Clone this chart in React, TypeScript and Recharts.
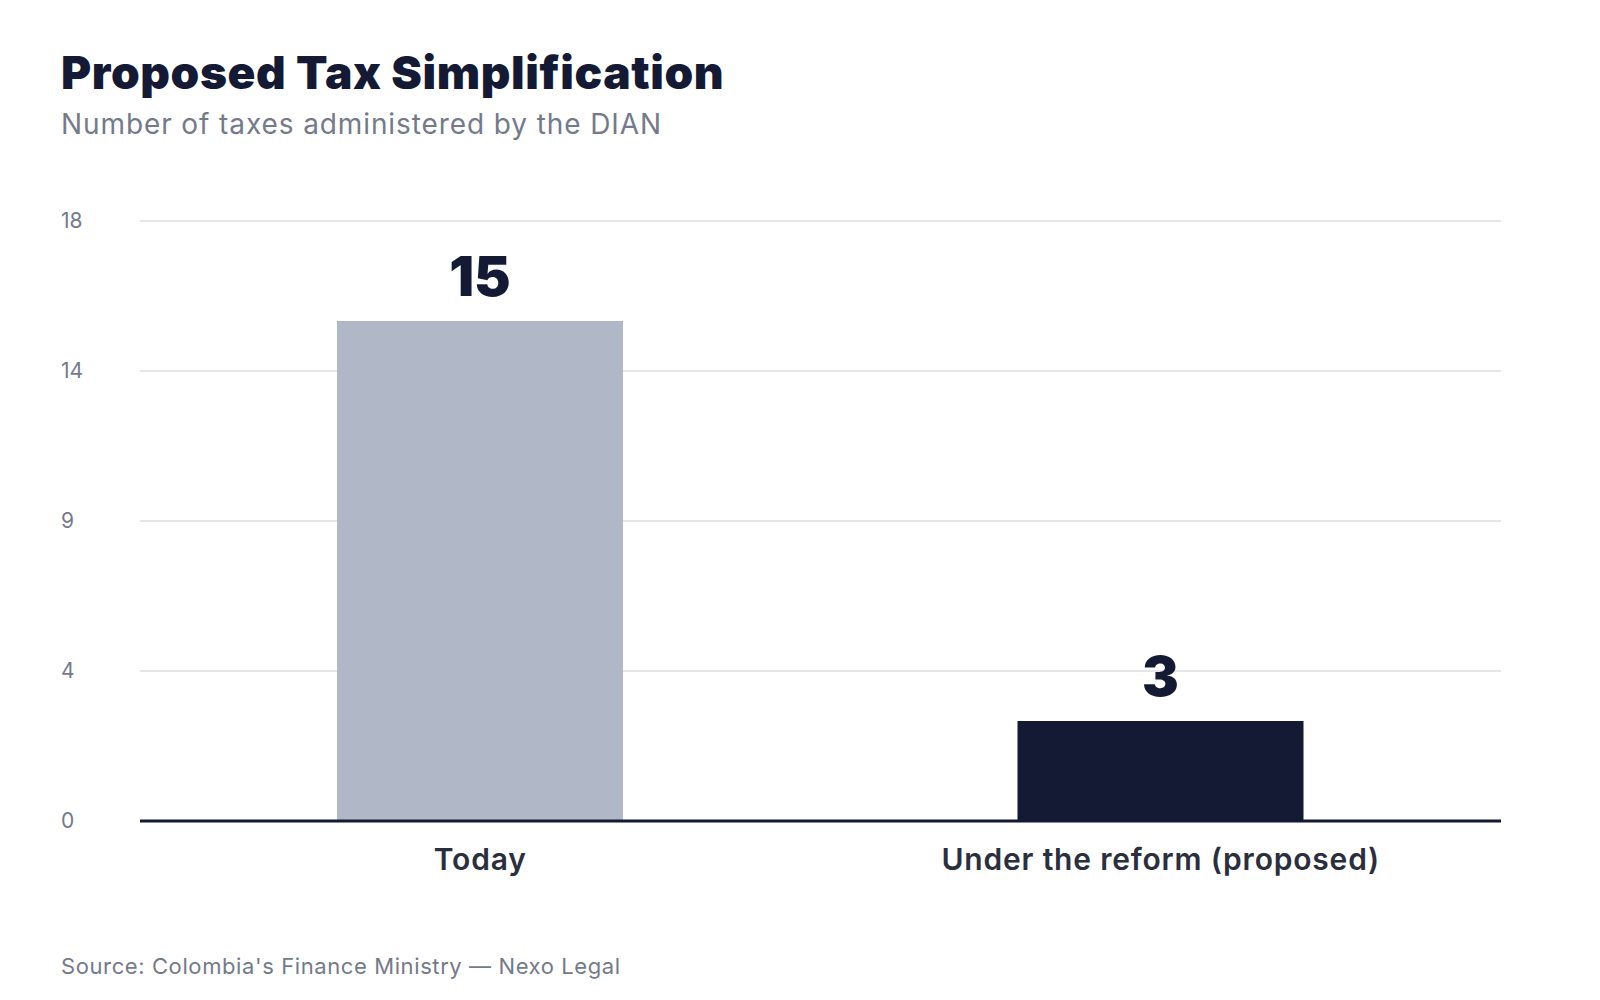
import { BarChart, Bar, XAxis, YAxis, CartesianGrid, Cell, LabelList } from 'recharts';

const categories = ['Today', 'Under the reform (proposed)'];
const taxCounts = [15, 3];
const barColors = ['#b0b7c6', '#141a33'];
const yTicks = [0, 4.5, 9, 13.5, 18];
const yTickLabels = ['0', '4', '9', '14', '18'];

const NAVY = '#141a33';
const GREY = '#747a8a';
const FONT = 'Inter, "Noto Sans", sans-serif';

const chartData = categories.map((name, i) => ({ name, value: taxCounts[i] }));

function YTick({ y, payload }: any) {
  const idx = yTicks.indexOf(payload.value);
  return (
    <text x={61} y={y} dy="0.35em" textAnchor="start" fontSize={21} fill={GREY} fontFamily={FONT}>
      {yTickLabels[idx] ?? payload.value}
    </text>
  );
}

function XTick({ x, y, payload }: any) {
  return (
    <text x={x} y={y + 41} textAnchor="middle" fontSize={30} fontWeight={600} letterSpacing={0.8} fill="#2b2f3d" fontFamily={FONT}>
      {payload.value}
    </text>
  );
}

function ValueLabel({ x, y, width, value }: any) {
  return (
    <text x={x + width / 2} y={y - 25} textAnchor="middle" fontSize={55} fontWeight={900} fill={NAVY} fontFamily={FONT}>
      {value}
    </text>
  );
}

export default function App() {
  return (
    <div style={{ position: 'absolute', left: 0, top: 0, width: 1600, height: 1000, background: '#fff', fontFamily: FONT }}>
      <div style={{ position: 'absolute', left: 61, top: 49, fontSize: 46, lineHeight: '46px', fontWeight: 900, letterSpacing: 0.6, color: NAVY }}>
        Proposed Tax Simplification
      </div>
      <div style={{ position: 'absolute', left: 61, top: 107, fontSize: 28, lineHeight: '34px', letterSpacing: 0.9, color: GREY }}>
        Number of taxes administered by the DIAN
      </div>
      <div style={{ position: 'absolute', left: 0, top: 0 }}>
        <BarChart width={1600} height={1000} data={chartData} margin={{ top: 221, right: 99, bottom: 149, left: 0 }}>
          <CartesianGrid vertical={false} stroke="#e4e6ea" strokeWidth={2} />
          <YAxis
            width={140}
            domain={[0, 18]}
            ticks={yTicks}
            interval={0}
            axisLine={false}
            tickLine={false}
            tick={<YTick />}
          />
          <XAxis
            dataKey="name"
            height={30}
            axisLine={{ stroke: NAVY, strokeWidth: 3 }}
            tickLine={false}
            tick={<XTick />}
          />
          <Bar dataKey="value" barSize={286} isAnimationActive={false}>
            {chartData.map((d, i) => (
              <Cell key={d.name} fill={barColors[i]} />
            ))}
            <LabelList dataKey="value" content={<ValueLabel />} />
          </Bar>
        </BarChart>
      </div>
      <div style={{ position: 'absolute', left: 61, top: 952, fontSize: 22, lineHeight: '28px', letterSpacing: 0.6, color: GREY }}>
        Source: Colombia's Finance Ministry — Nexo Legal
      </div>
    </div>
  );
}
